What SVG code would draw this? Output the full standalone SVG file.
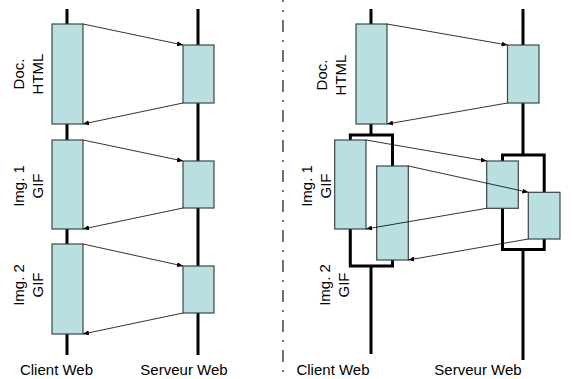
<svg xmlns="http://www.w3.org/2000/svg" width="573" height="379" viewBox="0 0 573 379">
<style>
.life{stroke:#000;stroke-width:3;fill:none;stroke-linejoin:miter;stroke-linecap:butt}
.box{fill:#b9dfe0;stroke:#3c4646;stroke-width:1.2}
.msg{stroke:#000;stroke-width:0.8;fill:none;marker-end:url(#ah)}
.lbl{font-family:"Liberation Sans",Arial,sans-serif;font-size:15px;fill:#000}
.sep{stroke:#333;stroke-width:1.4;stroke-dasharray:12 8 2 8;fill:none}
</style>
<defs>
<marker id="ah" markerWidth="6" markerHeight="5" refX="6" refY="2.5" orient="auto" markerUnits="userSpaceOnUse">
<path d="M0,0 L6,2.5 L0,5 Z" fill="#000"/>
</marker>
</defs>
<rect x="0" y="0" width="573" height="379" fill="#fff"/>

<g id="separator"><line class="sep" x1="283" y1="-10" x2="283" y2="379"/></g>

<g id="lifelines">
<line class="life" x1="67" y1="9" x2="67" y2="355"/>
<line class="life" x1="198" y1="9" x2="198" y2="355"/>
<line class="life" x1="371" y1="9" x2="371" y2="135"/>
<polyline class="life" points="350.3,140 350.3,135 392.5,135 392.5,166"/>
<polyline class="life" points="350.3,229 350.3,266 392.5,266 392.5,260"/>
<line class="life" x1="371" y1="266" x2="371" y2="354"/>
<line class="life" x1="523" y1="9" x2="523" y2="155"/>
<polyline class="life" points="502.5,161 502.5,155 544.2,155 544.2,192"/>
<polyline class="life" points="502.5,208 502.5,249.5 544.2,249.5 544.2,239"/>
<line class="life" x1="523" y1="249.5" x2="523" y2="360"/>
</g>

<g id="left-client-doc"><rect class="box" x="52" y="24" width="31" height="100"/></g>
<g id="left-server-doc"><rect class="box" x="183" y="45" width="31" height="58"/></g>
<g id="left-client-img1"><rect class="box" x="52" y="140" width="31" height="89"/></g>
<g id="left-server-img1"><rect class="box" x="183" y="161" width="31" height="47"/></g>
<g id="left-client-img2"><rect class="box" x="52" y="244" width="31" height="90"/></g>
<g id="left-server-img2"><rect class="box" x="183" y="266" width="31" height="47"/></g>

<g id="right-client-doc"><rect class="box" x="356" y="24" width="31" height="100"/></g>
<g id="right-server-doc"><rect class="box" x="507.5" y="45" width="31.5" height="58"/></g>
<g id="right-client-img1"><rect class="box" x="334.7" y="140" width="31.3" height="89"/></g>
<g id="right-client-img2"><rect class="box" x="376.7" y="166" width="31.6" height="94"/></g>
<g id="right-server-img1"><rect class="box" x="486.7" y="161" width="31.6" height="47.3"/></g>
<g id="right-server-img2"><rect class="box" x="528.3" y="192.3" width="31.7" height="46.7"/></g>

<g id="connectors">
<line class="msg" x1="83" y1="24" x2="183" y2="45"/>
<line class="msg" x1="183" y1="103" x2="83" y2="124"/>
<line class="msg" x1="83" y1="140" x2="183" y2="161"/>
<line class="msg" x1="183" y1="208" x2="83" y2="229"/>
<line class="msg" x1="83" y1="244" x2="183" y2="266"/>
<line class="msg" x1="183" y1="313" x2="83" y2="334"/>
<line class="msg" x1="387" y1="24" x2="507.5" y2="45"/>
<line class="msg" x1="507.5" y1="103" x2="387" y2="124"/>
<line class="msg" x1="366" y1="140" x2="486.7" y2="161"/>
<line class="msg" x1="408.3" y1="166" x2="528.3" y2="192.3"/>
<line class="msg" x1="486.7" y1="208.3" x2="366" y2="229"/>
<line class="msg" x1="528.3" y1="239" x2="408.3" y2="260"/>
</g>

<g id="labels">
<text class="lbl" text-anchor="middle" transform="translate(24,74) rotate(-90)"><tspan x="0" y="0">Doc.</tspan><tspan x="0" y="19">HTML</tspan></text>
<text class="lbl" text-anchor="middle" transform="translate(24,186) rotate(-90)"><tspan x="0" y="0">Img. 1</tspan><tspan x="0" y="19">GIF</tspan></text>
<text class="lbl" text-anchor="middle" transform="translate(24,285) rotate(-90)"><tspan x="0" y="0">Img. 2</tspan><tspan x="0" y="19">GIF</tspan></text>
<text class="lbl" text-anchor="middle" transform="translate(327,75) rotate(-90)"><tspan x="0" y="0">Doc.</tspan><tspan x="0" y="19">HTML</tspan></text>
<text class="lbl" text-anchor="middle" transform="translate(312,186) rotate(-90)"><tspan x="0" y="0">Img. 1</tspan><tspan x="0" y="19">GIF</tspan></text>
<text class="lbl" text-anchor="middle" transform="translate(330,285) rotate(-90)"><tspan x="0" y="0">Img. 2</tspan><tspan x="0" y="19">GIF</tspan></text>
<text class="lbl" text-anchor="middle" x="56.5" y="375">Client Web</text>
<text class="lbl" text-anchor="middle" x="184" y="375">Serveur Web</text>
<text class="lbl" text-anchor="middle" x="333" y="375">Client Web</text>
<text class="lbl" text-anchor="middle" x="478" y="375">Serveur Web</text>
</g>
</svg>
